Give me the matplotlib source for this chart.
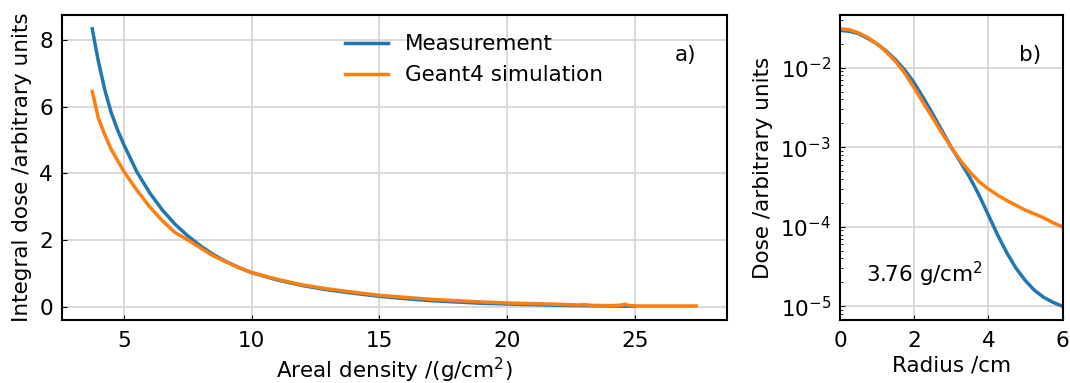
"""Integral dose vs areal density and radial dose profile."""

import matplotlib
matplotlib.use('Agg')
import matplotlib.pyplot as plt

# a) integral dose vs areal density
depth_meas = [3.76, 3.9, 4.0, 4.25, 4.5, 4.75, 5.0, 5.5, 6.0, 6.5, 7.0, 7.5, 8.0,
              8.5, 9.0, 9.5, 10, 11, 12, 13, 14, 15, 16, 17, 18, 19, 20, 21, 22,
              23, 24, 25]
dose_meas = [8.33, 7.75, 7.35, 6.5, 5.82, 5.3, 4.85, 4.05, 3.42, 2.9, 2.47, 2.12,
             1.82, 1.56, 1.35, 1.17, 1.02, 0.8, 0.63, 0.5, 0.4, 0.31, 0.24, 0.18,
             0.14, 0.1, 0.08, 0.06, 0.04, 0.03, 0.02, 0.01]
depth_sim = [3.76, 4.0, 4.25, 4.5, 5.0, 5.5, 6.0, 6.5, 7.0, 7.5, 8.0, 8.5, 9.0,
             9.5, 10, 11, 12, 13, 14, 15, 16, 17, 18, 19, 20, 21, 22, 22.8, 23.0,
             23.3, 24, 24.4, 24.6, 24.8, 25, 26, 27, 27.4]
dose_sim = [6.45, 5.65, 5.15, 4.72, 4.05, 3.5, 3.0, 2.58, 2.22, 2.0, 1.76, 1.52,
            1.34, 1.17, 1.02, 0.82, 0.65, 0.53, 0.43, 0.34, 0.28, 0.22, 0.18,
            0.14, 0.11, 0.09, 0.07, 0.05, 0.06, 0.04, 0.03, 0.04, 0.07, 0.03,
            0.02, 0.02, 0.02, 0.02]

# b) radial dose profile at 3.76 g/cm2
radius = [0, 0.25, 0.5, 0.75, 1.0, 1.25, 1.5, 1.75, 2.0, 2.25, 2.5, 2.75, 3.0,
          3.25, 3.5, 3.75, 4.0, 4.25, 4.5, 4.75, 5.0, 5.25, 5.5, 5.75, 6.0]
rad_meas = [0.0295, 0.0288, 0.0269, 0.0234, 0.0200, 0.0162, 0.0126, 0.00933,
            0.00646, 0.00417, 0.00263, 0.00162, 0.00100, 6.5e-4, 4.17e-4,
            2.51e-4, 1.41e-4, 7.9e-5, 4.7e-5, 3.0e-5, 2.1e-5, 1.58e-5, 1.29e-5,
            1.12e-5, 1.0e-5]
rad_sim = [0.0309, 0.0302, 0.0275, 0.0240, 0.0200, 0.0158, 0.0120, 0.0085,
           0.0056, 0.0036, 0.00234, 0.00151, 0.00100, 6.8e-4, 4.9e-4, 3.7e-4,
           3.0e-4, 2.5e-4, 2.14e-4, 1.86e-4, 1.62e-4, 1.45e-4, 1.29e-4, 1.12e-4,
           1.0e-4]

plt.rcParams['font.size'] = 15.5

fig = plt.figure(figsize=(10.7, 3.83), dpi=100)
ax1 = fig.add_axes([0.058, 0.164, 0.621, 0.797])
ax2 = fig.add_axes([0.785, 0.164, 0.208, 0.797])

ax1.plot(depth_meas, dose_meas, color='#1f77b4', lw=2.5, label='Measurement')
ax1.plot(depth_sim, dose_sim, color='#ff7f0e', lw=2.5, label='Geant4 simulation')
ax1.set_xlabel('Areal density /(g/cm$^2$)', labelpad=3)
ax1.set_ylabel('Integral dose /arbitrary units', labelpad=5)
ax1.set_xticks([5, 10, 15, 20, 25])
ax1.set_yticks([0, 2, 4, 6, 8])
ax1.legend(loc='upper center', frameon=False, bbox_to_anchor=(0.62, 1.0),
           handlelength=2.0, labelspacing=0.5)
ax1.text(0.955, 0.87, 'a)', transform=ax1.transAxes, ha='right', va='center')

ax2.plot(radius, rad_meas, color='#1f77b4', lw=2.5)
ax2.plot(radius, rad_sim, color='#ff7f0e', lw=2.5)
ax2.set_yscale('log')
ax2.set_xlim(0, 6)
ax2.set_xticks([0, 2, 4, 6])
ax2.set_xlabel('Radius /cm', labelpad=3)
ax2.set_ylabel('Dose /arbitrary units', labelpad=5)
ax2.text(0.855, 0.87, 'b)', transform=ax2.transAxes, ha='center', va='center')
ax2.text(0.7, 2.5e-5, '3.76 g/cm$^2$', ha='left', va='center')

for ax in (ax1, ax2):
    ax.grid(True, color='#d3d3d3', lw=1.2)
    ax.set_axisbelow(True)
    ax.tick_params(which='both', direction='in')
    ax.tick_params(axis='x', which='both', pad=8)
    ax.tick_params(axis='y', which='both', pad=6.5)
    for sp in ax.spines.values():
        sp.set_linewidth(1.5)

fig.savefig('out.png', dpi=100)
